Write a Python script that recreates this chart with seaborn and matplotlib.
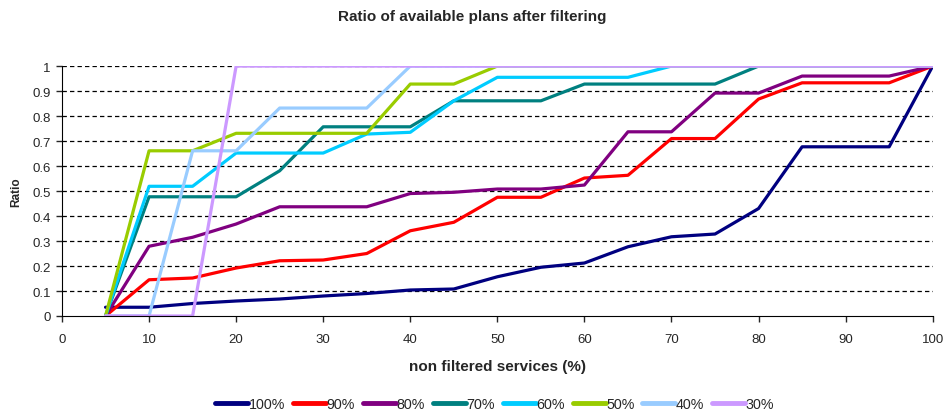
import pandas as pd
import seaborn as sns
import matplotlib.pyplot as plt

# x positions: share of non filtered services
services = [5, 10, 15, 20, 25, 30, 35, 40, 45, 50, 55, 60, 65, 70, 75, 80, 85, 90, 95, 100]

# ratio of available plans per threshold
r100 = [0.035, 0.035, 0.05, 0.06, 0.068, 0.08, 0.09, 0.104, 0.108, 0.157, 0.195, 0.212, 0.277, 0.317, 0.328, 0.43, 0.677, 0.677, 0.677, 1.0]
r90 = [0.0, 0.145, 0.152, 0.192, 0.221, 0.224, 0.25, 0.341, 0.375, 0.475, 0.475, 0.552, 0.563, 0.71, 0.71, 0.868, 0.933, 0.933, 0.933, 1.0]
r80 = [0.0, 0.279, 0.315, 0.368, 0.437, 0.437, 0.437, 0.49, 0.495, 0.508, 0.508, 0.524, 0.737, 0.737, 0.892, 0.892, 0.96, 0.96, 0.96, 1.0]
r70 = [0.0, 0.477, 0.477, 0.477, 0.581, 0.757, 0.757, 0.757, 0.861, 0.861, 0.861, 0.928, 0.928, 0.928, 0.928, 1.0, 1.0, 1.0, 1.0, 1.0]
r60 = [0.0, 0.519, 0.519, 0.652, 0.652, 0.652, 0.728, 0.735, 0.861, 0.955, 0.955, 0.955, 0.955, 1.0, 1.0, 1.0, 1.0, 1.0, 1.0, 1.0]
r50 = [0.0, 0.661, 0.661, 0.731, 0.731, 0.731, 0.731, 0.928, 0.928, 1.0, 1.0, 1.0, 1.0, 1.0, 1.0, 1.0, 1.0, 1.0, 1.0, 1.0]
r40 = [0.0, 0.0, 0.661, 0.661, 0.832, 0.832, 0.832, 1.0, 1.0, 1.0, 1.0, 1.0, 1.0, 1.0, 1.0, 1.0, 1.0, 1.0, 1.0, 1.0]
r30 = [0.0, 0.0, 0.0, 1.0, 1.0, 1.0, 1.0, 1.0, 1.0, 1.0, 1.0, 1.0, 1.0, 1.0, 1.0, 1.0, 1.0, 1.0, 1.0, 1.0]

labels = ['100%', '90%', '80%', '70%', '60%', '50%', '40%', '30%']
colors = ['#000080', '#FF0000', '#800080', '#008080', '#00CCFF', '#99CC00', '#99CCFF', '#CC99FF']

# long form table for seaborn
frames = []
for lab, vals in zip(labels, [r100, r90, r80, r70, r60, r50, r40, r30]):
    frames.append(pd.DataFrame({'services': services, 'ratio': vals, 'series': lab}))
df = pd.concat(frames, ignore_index=True)

sns.set_style('white')
plt.rcParams['font.family'] = ['Liberation Sans', 'DejaVu Sans']

fig = plt.figure(figsize=(9.45, 4.14), dpi=100)
ax = fig.add_axes([0.0656, 0.2343, 0.9214, 0.6037])

sns.lineplot(data=df, x='services', y='ratio', hue='series', hue_order=labels,
             palette=colors, linewidth=2.3, ax=ax)

ax.set_xlim(0, 100)
ax.set_ylim(0, 1)
ax.set_xticks(range(0, 101, 10))
ax.set_yticks([i / 10 for i in range(11)])
ax.set_yticklabels(['0', '0.1', '0.2', '0.3', '0.4', '0.5', '0.6', '0.7', '0.8', '0.9', '1'])
ax.tick_params(axis='both', labelsize=9.5, length=4, width=1, direction='out',
               bottom=True, left=True)
ax.tick_params(axis='x', pad=8.5)
ax.tick_params(axis='y', pad=4)

# dashed gridlines like the old spreadsheet chart
for v in [i / 10 for i in range(1, 11)]:
    ax.axhline(v, color='black', linestyle=(0, (3.5, 2.5)), linewidth=0.9, zorder=0)

sns.despine(ax=ax)
ax.spines['left'].set_color('black')
ax.spines['bottom'].set_color('black')

ax.set_xlabel('non filtered services (%)', fontsize=11, fontweight='bold', labelpad=10)
ax.set_ylabel('Ratio', fontsize=8.5, fontweight='bold', labelpad=7)
fig.suptitle('Ratio of available plans after filtering', fontsize=11,
             fontweight='bold', y=0.975)

ax.legend(loc='center', bbox_to_anchor=(0.497, -0.352), ncol=8, frameon=False,
          fontsize=10.3, handlelength=2.3, handletextpad=0.05, columnspacing=0.55,
          borderpad=0.2)
for line in ax.get_legend().get_lines():
    line.set_linewidth(3.5)

fig.savefig('out.png', dpi=100)
